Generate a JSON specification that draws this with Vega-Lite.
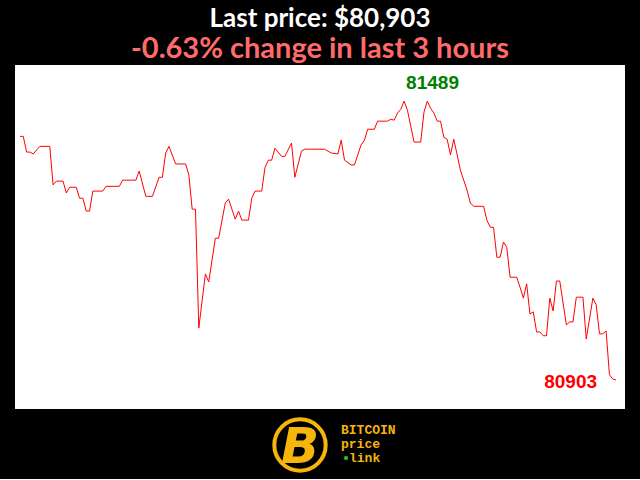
{
  "$schema": "https://vega.github.io/schema/vega-lite/v6.json",
  "background": "black",
  "padding": {"left": 15, "top": 6, "right": 15, "bottom": 0},
  "title": {
    "text": "Last price: $80,903",
    "subtitle": "-0.63% change in last 3 hours",
    "anchor": "middle",
    "font": "Lato",
    "fontSize": 26,
    "fontWeight": "bold",
    "color": "white",
    "subtitleFont": "Lato",
    "subtitleFontSize": 29,
    "subtitleFontWeight": "bold",
    "subtitleColor": "#ff6b6b",
    "subtitlePadding": 3,
    "offset": 1
  },
  "config": {"view": {"stroke": null}},
  "spacing": 2,
  "datasets": {
    "prices": [
      {"t": 0, "price": 81415}, {"t": 1, "price": 81415}, {"t": 2, "price": 81382}, {"t": 3, "price": 81382},
      {"t": 4, "price": 81378}, {"t": 6, "price": 81394}, {"t": 9, "price": 81394}, {"t": 10, "price": 81313},
      {"t": 11, "price": 81321}, {"t": 13, "price": 81321}, {"t": 14, "price": 81296}, {"t": 15, "price": 81308},
      {"t": 17, "price": 81308}, {"t": 18, "price": 81285}, {"t": 19, "price": 81285}, {"t": 20, "price": 81258},
      {"t": 21, "price": 81258}, {"t": 22, "price": 81300}, {"t": 25, "price": 81300}, {"t": 26, "price": 81310},
      {"t": 30, "price": 81310}, {"t": 31, "price": 81323}, {"t": 35, "price": 81323}, {"t": 36, "price": 81342},
      {"t": 38, "price": 81289}, {"t": 40, "price": 81289}, {"t": 42, "price": 81329}, {"t": 43, "price": 81329},
      {"t": 44, "price": 81380}, {"t": 45, "price": 81394}, {"t": 47, "price": 81357}, {"t": 50, "price": 81357},
      {"t": 51, "price": 81334}, {"t": 52, "price": 81262}, {"t": 53, "price": 81262}, {"t": 54, "price": 81012},
      {"t": 56, "price": 81126}, {"t": 57, "price": 81109}, {"t": 59, "price": 81201}, {"t": 60, "price": 81201},
      {"t": 62, "price": 81275}, {"t": 63, "price": 81283}, {"t": 65, "price": 81241}, {"t": 66, "price": 81258},
      {"t": 67, "price": 81239}, {"t": 69, "price": 81239}, {"t": 70, "price": 81285}, {"t": 71, "price": 81300},
      {"t": 73, "price": 81300}, {"t": 74, "price": 81350}, {"t": 75, "price": 81365}, {"t": 76, "price": 81365},
      {"t": 77, "price": 81390}, {"t": 79, "price": 81373}, {"t": 80, "price": 81373}, {"t": 82, "price": 81401},
      {"t": 83, "price": 81329}, {"t": 85, "price": 81384}, {"t": 86, "price": 81388}, {"t": 92, "price": 81388},
      {"t": 94, "price": 81380}, {"t": 96, "price": 81378}, {"t": 97, "price": 81407}, {"t": 98, "price": 81365},
      {"t": 100, "price": 81355}, {"t": 101, "price": 81355}, {"t": 103, "price": 81397}, {"t": 104, "price": 81407},
      {"t": 105, "price": 81430}, {"t": 107, "price": 81430}, {"t": 108, "price": 81447}, {"t": 111, "price": 81447},
      {"t": 112, "price": 81451}, {"t": 113, "price": 81449}, {"t": 114, "price": 81464}, {"t": 115, "price": 81472},
      {"t": 116, "price": 81489}, {"t": 117, "price": 81470}, {"t": 119, "price": 81403}, {"t": 121, "price": 81403},
      {"t": 122, "price": 81466}, {"t": 123, "price": 81489}, {"t": 124, "price": 81474}, {"t": 125, "price": 81464},
      {"t": 126, "price": 81447}, {"t": 127, "price": 81447}, {"t": 128, "price": 81413}, {"t": 129, "price": 81409},
      {"t": 130, "price": 81376}, {"t": 131, "price": 81409}, {"t": 133, "price": 81344}, {"t": 135, "price": 81302},
      {"t": 136, "price": 81275}, {"t": 137, "price": 81268}, {"t": 140, "price": 81268}, {"t": 141, "price": 81239},
      {"t": 142, "price": 81224}, {"t": 143, "price": 81224}, {"t": 144, "price": 81161}, {"t": 145, "price": 81161},
      {"t": 146, "price": 81193}, {"t": 147, "price": 81182}, {"t": 148, "price": 81119}, {"t": 150, "price": 81119},
      {"t": 151, "price": 81098}, {"t": 152, "price": 81075}, {"t": 153, "price": 81105}, {"t": 154, "price": 81042},
      {"t": 155, "price": 81046}, {"t": 156, "price": 81004}, {"t": 157, "price": 81004}, {"t": 158, "price": 80996},
      {"t": 159, "price": 80996}, {"t": 160, "price": 81075}, {"t": 161, "price": 81048}, {"t": 162, "price": 81111},
      {"t": 163, "price": 81111}, {"t": 165, "price": 81019}, {"t": 166, "price": 81025}, {"t": 167, "price": 81025},
      {"t": 168, "price": 81077}, {"t": 170, "price": 81077}, {"t": 171, "price": 80989}, {"t": 173, "price": 81075},
      {"t": 174, "price": 81061}, {"t": 175, "price": 81000}, {"t": 176, "price": 81000}, {"t": 177, "price": 81006},
      {"t": 178, "price": 80914}, {"t": 179, "price": 80905}, {"t": 180, "price": 80903}
    ],
    "logo": [
      {"part": "ring", "x": 285, "y": 33, "label": ""},
      {"part": "B", "x": 285, "y": 33, "label": "B"},
      {"part": "word1", "x": 326, "y": 18, "label": "BITCOIN"},
      {"part": "word2", "x": 326, "y": 32, "label": "price"},
      {"part": "word3", "x": 334, "y": 46, "label": "link"},
      {"part": "dot", "x": 331, "y": 46, "label": ""}
    ]
  },
  "vconcat": [
    {
      "width": 610,
      "height": 344,
      "view": {"fill": "white", "stroke": null},
      "data": {"name": "prices"},
      "encoding": {
        "x": {"field": "t", "type": "quantitative", "scale": {"domain": [-1.5, 182.7], "nice": false, "zero": false}, "axis": null},
        "y": {"field": "price", "type": "quantitative", "scale": {"domain": [80842, 81565], "nice": false, "zero": false}, "axis": null}
      },
      "layer": [
        {"mark": {"type": "line", "color": "#ff0000", "strokeWidth": 1, "clip": true}},
        {
          "transform": [{"filter": "datum.t == 116"}],
          "mark": {"type": "text", "align": "left", "baseline": "alphabetic", "dx": 2, "dy": -12, "font": "Liberation Sans", "fontSize": 19, "fontWeight": "bold", "color": "#008000"},
          "encoding": {"text": {"field": "price", "type": "nominal"}}
        },
        {
          "transform": [{"filter": "datum.t == 180"}],
          "mark": {"type": "text", "align": "right", "baseline": "middle", "dx": -19, "dy": 2, "font": "Liberation Sans", "fontSize": 19, "fontWeight": "bold", "color": "#ff0000"},
          "encoding": {"text": {"field": "price", "type": "nominal"}}
        }
      ]
    },
    {
      "width": 610,
      "height": 66,
      "data": {"name": "logo"},
      "encoding": {
        "x": {"field": "x", "type": "quantitative", "scale": {"domain": [0, 610], "nice": false, "zero": false}, "axis": null},
        "y": {"field": "y", "type": "quantitative", "scale": {"domain": [0, 66], "reverse": true, "nice": false, "zero": false}, "axis": null}
      },
      "layer": [
        {
          "transform": [{"filter": "datum.part == 'ring'"}],
          "mark": {"type": "point", "shape": "circle", "size": 2640, "filled": false, "stroke": "#f5b50a", "strokeWidth": 4, "fill": "black", "fillOpacity": 1, "opacity": 1}
        },
        {
          "transform": [{"filter": "datum.part == 'B'"}],
          "mark": {"type": "text", "align": "center", "baseline": "middle", "font": "DejaVu Sans", "fontSize": 50, "fontWeight": "bold", "fontStyle": "italic", "color": "#f5b50a", "dy": 3},
          "encoding": {"text": {"field": "label", "type": "nominal"}}
        },
        {
          "transform": [{"filter": "datum.part == 'word1' || datum.part == 'word2' || datum.part == 'word3'"}],
          "mark": {"type": "text", "align": "left", "baseline": "middle", "font": "Liberation Mono", "fontSize": 13, "fontWeight": "bold", "color": "#f5b50a"},
          "encoding": {"text": {"field": "label", "type": "nominal"}}
        },
        {
          "transform": [{"filter": "datum.part == 'dot'"}],
          "mark": {"type": "point", "shape": "square", "size": 12, "filled": true, "color": "#2ecc40", "opacity": 1}
        }
      ]
    }
  ]
}
